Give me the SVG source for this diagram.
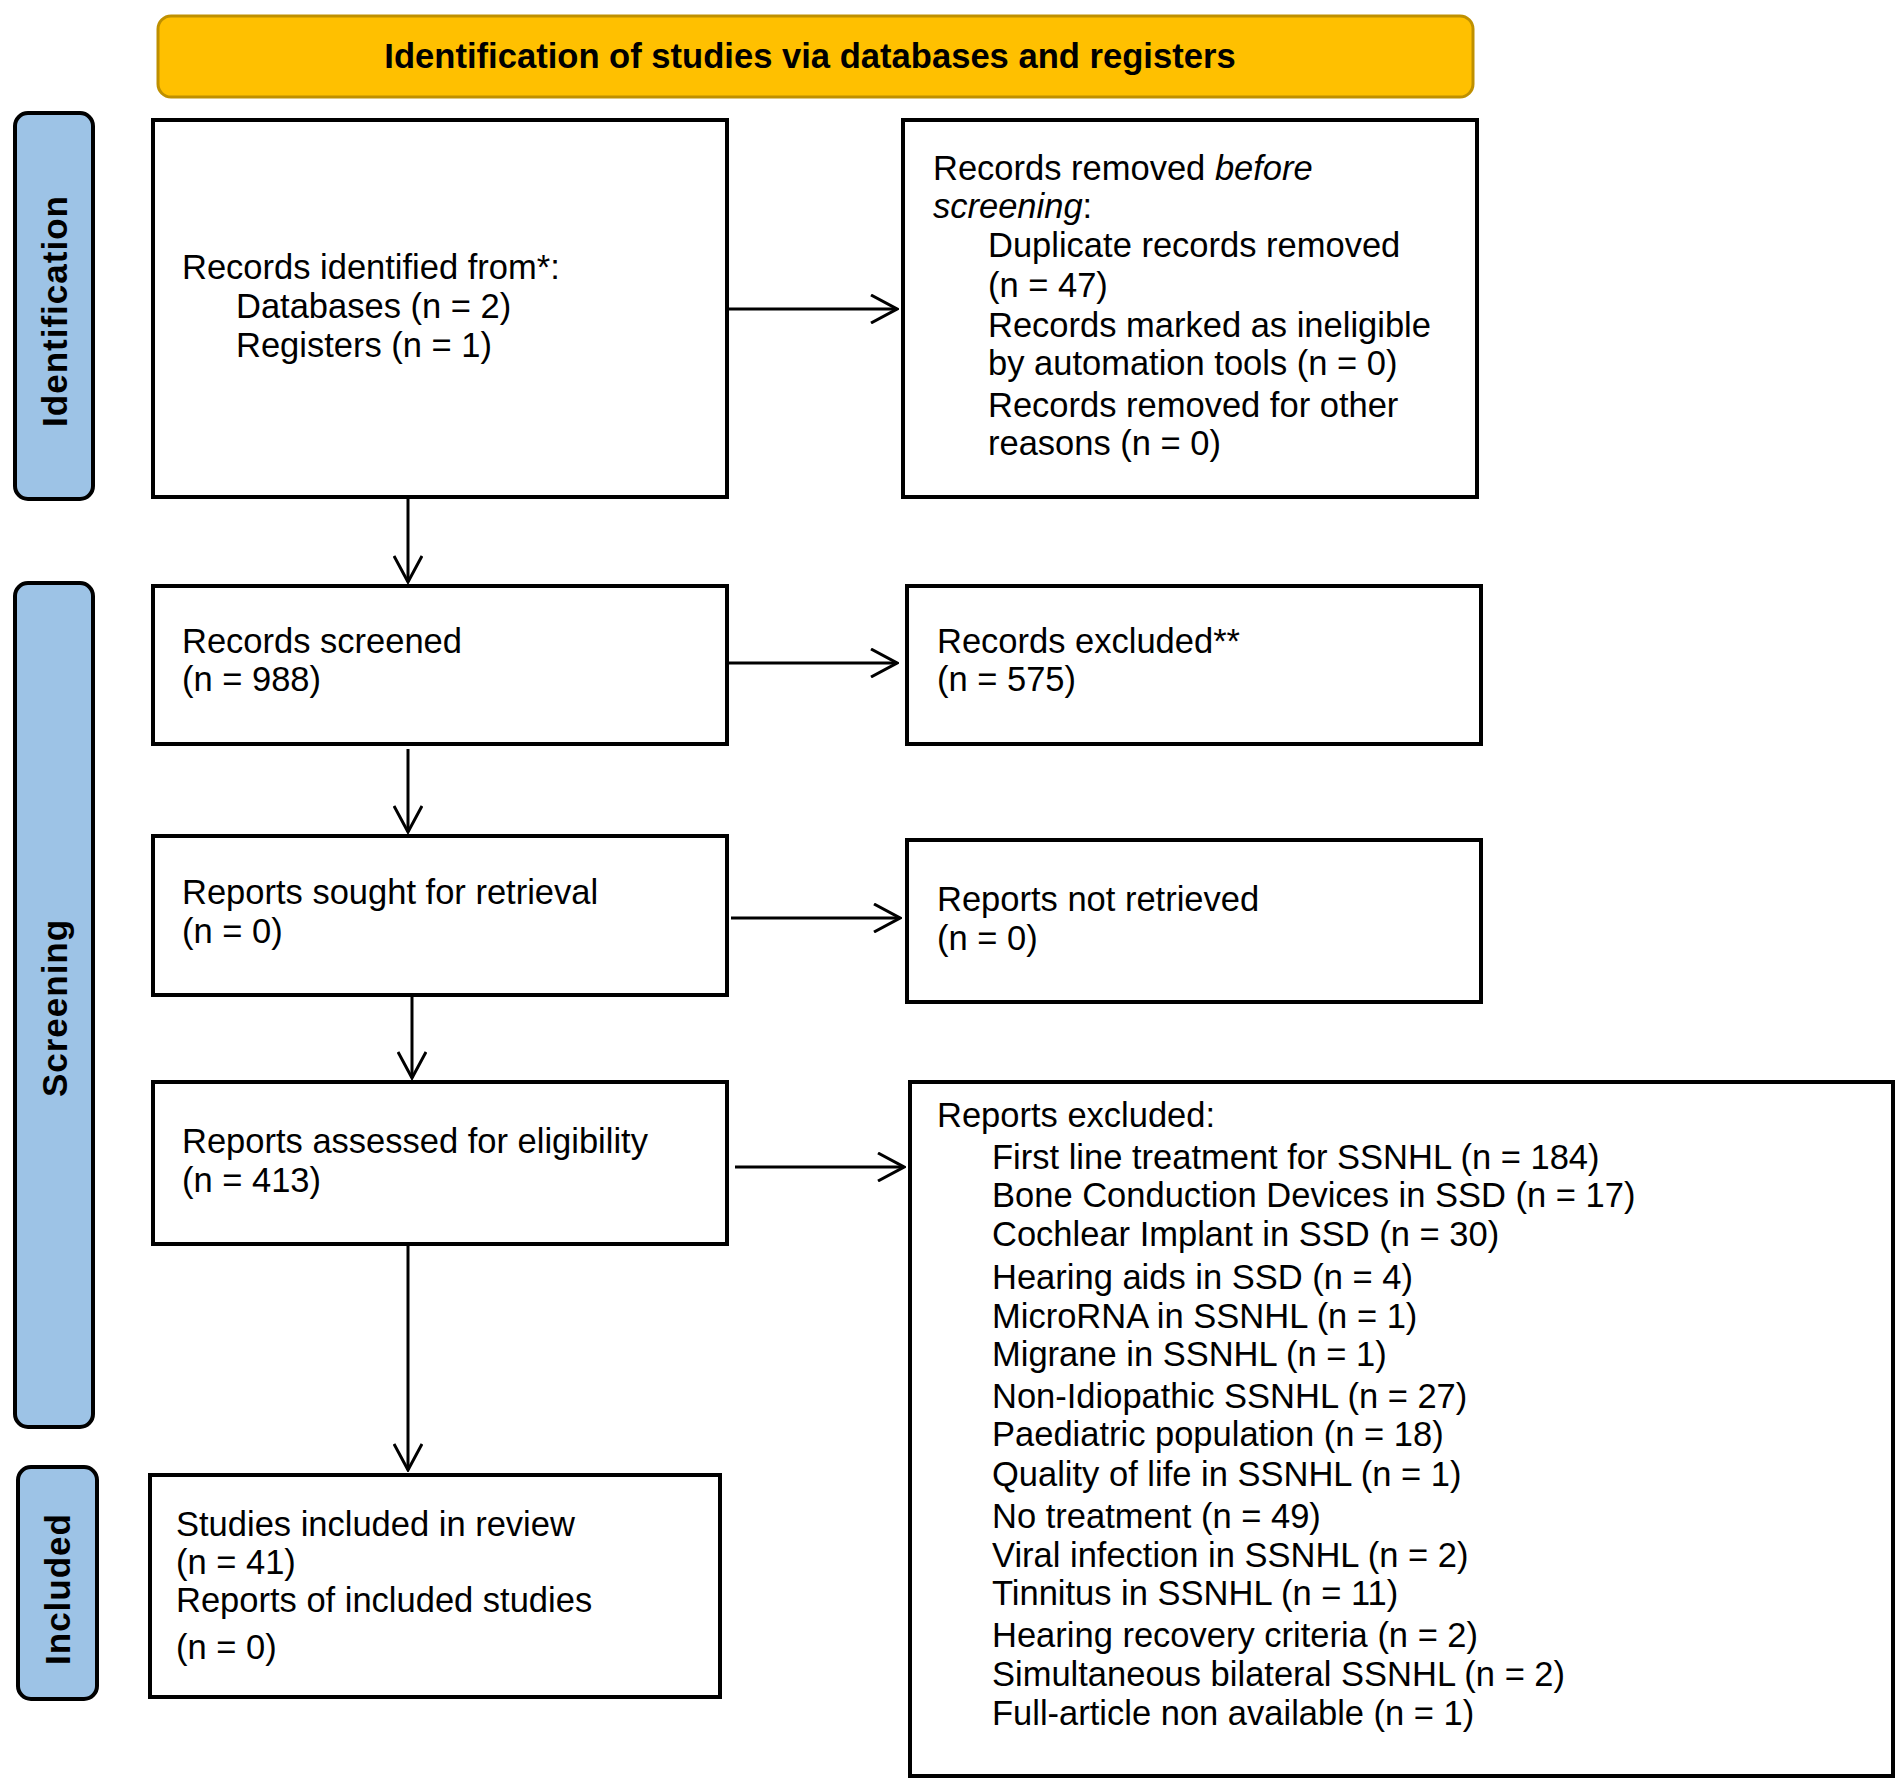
<svg xmlns="http://www.w3.org/2000/svg" width="1902" height="1784" viewBox="0 0 1902 1784">
<style>
.box{fill:#fff;stroke:#000;stroke-width:4}
.lab{fill:#9DC3E6;stroke:#000;stroke-width:4}
.t{font-family:"Liberation Sans",Arial,sans-serif;font-size:34.5px;fill:#000}
.lt{font-family:"Liberation Sans",Arial,sans-serif;font-size:35px;font-weight:bold;fill:#000;text-anchor:middle;letter-spacing:1px}
.hd{font-family:"Liberation Sans",Arial,sans-serif;font-size:34.6px;font-weight:bold;fill:#000;text-anchor:middle}
.c{stroke:#000;stroke-width:3;fill:none}
</style>
<defs>
<marker id="ah" viewBox="0 0 30 30" refX="28" refY="15" markerWidth="30" markerHeight="30" markerUnits="userSpaceOnUse" orient="auto">
<path d="M2,1 L28,15 L2,29" fill="none" stroke="#000" stroke-width="3"/>
</marker>
</defs>
<rect width="1902" height="1784" fill="#fff"/>
<g id="banner">
<rect x="158" y="16" width="1315" height="81" rx="13" fill="#FFC000" stroke="#BF9000" stroke-width="3"/>
<text class="hd" x="810" y="68">Identification of studies via databases and registers</text>
</g>
<g id="label-identification">
<rect class="lab" x="15" y="113" width="78" height="386" rx="13"/>
<text class="lt" transform="translate(67,311) rotate(-90)">Identification</text>
</g>
<g id="label-screening">
<rect class="lab" x="15" y="583" width="78" height="844" rx="13"/>
<text class="lt" transform="translate(67,1008) rotate(-90)">Screening</text>
</g>
<g id="label-included">
<rect class="lab" x="18" y="1467" width="79" height="232" rx="13"/>
<text class="lt" transform="translate(70,1589) rotate(-90)">Included</text>
</g>
<g id="records-identified">
<rect class="box" x="153" y="120" width="574" height="377"/>
<text class="t" x="182" y="279">Records identified from*:</text>
<text class="t" x="236" y="318">Databases (n = 2)</text>
<text class="t" x="236" y="357">Registers (n = 1)</text>
</g>
<g id="records-removed">
<rect class="box" x="903" y="120" width="574" height="377"/>
<text class="t" x="933" y="180">Records removed <tspan font-style="italic">before</tspan></text>
<text class="t" x="933" y="218"><tspan font-style="italic">screening</tspan>:</text>
<text class="t" x="988" y="257">Duplicate records removed</text>
<text class="t" x="988" y="297">(n = 47)</text>
<text class="t" x="988" y="337">Records marked as ineligible</text>
<text class="t" x="988" y="375">by automation tools (n = 0)</text>
<text class="t" x="988" y="417">Records removed for other</text>
<text class="t" x="988" y="455">reasons (n = 0)</text>
</g>
<g id="records-screened">
<rect class="box" x="153" y="586" width="574" height="158"/>
<text class="t" x="182" y="653">Records screened</text>
<text class="t" x="182" y="691">(n = 988)</text>
</g>
<g id="records-excluded">
<rect class="box" x="907" y="586" width="574" height="158"/>
<text class="t" x="937" y="653">Records excluded**</text>
<text class="t" x="937" y="691">(n = 575)</text>
</g>
<g id="reports-sought">
<rect class="box" x="153" y="836" width="574" height="159"/>
<text class="t" x="182" y="904">Reports sought for retrieval</text>
<text class="t" x="182" y="943">(n = 0)</text>
</g>
<g id="reports-not-retrieved">
<rect class="box" x="907" y="840" width="574" height="162"/>
<text class="t" x="937" y="911">Reports not retrieved</text>
<text class="t" x="937" y="950">(n = 0)</text>
</g>
<g id="reports-assessed">
<rect class="box" x="153" y="1082" width="574" height="162"/>
<text class="t" x="182" y="1153">Reports assessed for eligibility</text>
<text class="t" x="182" y="1192">(n = 413)</text>
</g>
<g id="reports-excluded">
<rect class="box" x="910" y="1082" width="983" height="694"/>
<text class="t" x="937" y="1127">Reports excluded:</text>
<text class="t" x="992" y="1169">First line treatment for SSNHL (n = 184)</text>
<text class="t" x="992" y="1207">Bone Conduction Devices in SSD (n = 17)</text>
<text class="t" x="992" y="1246">Cochlear Implant in SSD (n = 30)</text>
<text class="t" x="992" y="1289">Hearing aids in SSD (n = 4)</text>
<text class="t" x="992" y="1328">MicroRNA in SSNHL (n = 1)</text>
<text class="t" x="992" y="1366">Migrane in SSNHL (n = 1)</text>
<text class="t" x="992" y="1408">Non-Idiopathic SSNHL (n = 27)</text>
<text class="t" x="992" y="1446">Paediatric population (n = 18)</text>
<text class="t" x="992" y="1486">Quality of life in SSNHL (n = 1)</text>
<text class="t" x="992" y="1528">No treatment (n = 49)</text>
<text class="t" x="992" y="1567">Viral infection in SSNHL (n = 2)</text>
<text class="t" x="992" y="1605">Tinnitus in SSNHL (n = 11)</text>
<text class="t" x="992" y="1647">Hearing recovery criteria (n = 2)</text>
<text class="t" x="992" y="1686">Simultaneous bilateral SSNHL (n = 2)</text>
<text class="t" x="992" y="1725">Full-article non available (n = 1)</text>
</g>
<g id="studies-included">
<rect class="box" x="150" y="1475" width="570" height="222"/>
<text class="t" x="176" y="1536">Studies included in review</text>
<text class="t" x="176" y="1574">(n = 41)</text>
<text class="t" x="176" y="1612">Reports of included studies</text>
<text class="t" x="176" y="1659">(n = 0)</text>
</g>
<g id="connectors">
<path class="c" d="M408,498 L408,582" marker-end="url(#ah)"/>
<path class="c" d="M727,309 L897,309" marker-end="url(#ah)"/>
<path class="c" d="M408,749 L408,832" marker-end="url(#ah)"/>
<path class="c" d="M727,663 L897,663" marker-end="url(#ah)"/>
<path class="c" d="M412,995 L412,1078" marker-end="url(#ah)"/>
<path class="c" d="M731,918 L900,918" marker-end="url(#ah)"/>
<path class="c" d="M735,1167 L904,1167" marker-end="url(#ah)"/>
<path class="c" d="M408,1245 L408,1470" marker-end="url(#ah)"/>
</g>
</svg>
